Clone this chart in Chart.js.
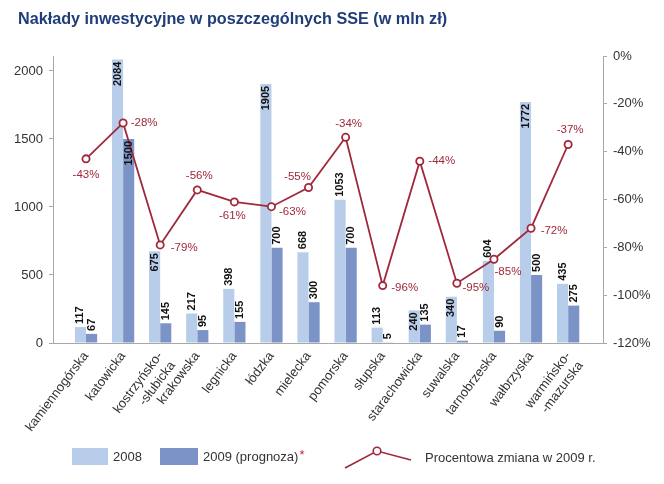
<!DOCTYPE html>
<html>
<head>
<meta charset="utf-8">
<script src="https://cdn.jsdelivr.net/npm/chart.js@4/dist/chart.umd.min.js"></script>
<style>
  html, body { margin: 0; padding: 0; background: #fff; }
  #wrap { width: 664px; height: 484px; }
</style>
</head>
<body>
<div id="wrap"><canvas id="c" width="664" height="484"></canvas></div>
<script>
// ---- data ----
const categories = ['kamiennogórska', 'katowicka', 'kostrzyńsko-\n-słubicka', 'krakowska', 'legnicka', 'łódzka', 'mielecka', 'pomorska', 'słupska', 'starachowicka', 'suwalska', 'tarnobrzeska', 'wałbrzyska', 'warmińsko-\n-mazurska'];
const values2008 = [117, 2084, 675, 217, 398, 1905, 668, 1053, 113, 240, 340, 604, 1772, 435];
const values2009 = [67, 1500, 145, 95, 155, 700, 300, 700, 5, 135, 17, 90, 500, 275];
const changePct = [-43, -28, -79, -56, -61, -63, -55, -34, -96, -44, -95, -85, -72, -37];
const leftTicks = [0, 500, 1000, 1500, 2000];
const rightTicks = [-120, -100, -80, -60, -40, -20, 0];
const title = 'Nakłady inwestycyjne w poszczególnych SSE (w mln zł)';
const legendLabels = ['2008', '2009 (prognoza)', 'Procentowa zmiana w 2009 r.'];

// ---- label styling (placement, not data) ----
const inside2008 = [false, true, true, false, false, true, false, false, false, true, true, false, true, false];
const inside2009 = [false, true, false, false, false, false, false, false, false, false, false, false, false, false];
const pctOffsets = [[0, 16], [21, 0], [24, 3], [2, -14], [-2, 14], [21, 5], [-11, -11], [3, -13], [22, 2], [22, 0], [19, 5], [14, 13], [23, 3], [2, -15]];

const COL_LIGHT = '#b7cdea';
const COL_DARK = '#7c93c7';
const COL_LINE = '#a0283a';
const COL_TEXT = '#333333';
const FONT = '"Liberation Sans", Arial, sans-serif';

const toXY = arr => arr.map((v, i) => ({ x: i, y: v }));

const labelsPlugin = {
  id: 'labelsPlugin',
  afterDatasetsDraw(chart) {
    const ctx = chart.ctx;
    // bar value labels
    [[1, values2008, inside2008], [2, values2009, inside2009]].forEach(([di, vals, ins]) => {
      const meta = chart.getDatasetMeta(di);
      meta.data.forEach((el, i) => {
        ctx.save();
        ctx.fillStyle = '#111111';
        ctx.font = 'bold 11px ' + FONT;
        ctx.textBaseline = 'middle';
        if (ins[i]) {
          ctx.translate(el.x, el.y + 2);
          ctx.rotate(-Math.PI / 2);
          ctx.textAlign = 'right';
        } else {
          ctx.translate(el.x, el.y - 3);
          ctx.rotate(-Math.PI / 2);
          ctx.textAlign = 'left';
        }
        ctx.fillText(String(vals[i]), 0, 0);
        ctx.restore();
      });
    });
    // percent labels
    const lm = chart.getDatasetMeta(0);
    ctx.save();
    ctx.fillStyle = COL_LINE;
    ctx.font = '11.5px ' + FONT;
    ctx.textAlign = 'center';
    ctx.textBaseline = 'middle';
    lm.data.forEach((el, i) => {
      ctx.fillText(changePct[i] + '%', el.x + pctOffsets[i][0], el.y + pctOffsets[i][1]);
    });
    ctx.restore();
  },
  afterDraw(chart) {
    const ctx = chart.ctx;
    ctx.save();
    // title
    ctx.fillStyle = '#1f3d78';
    ctx.font = 'bold 16.2px ' + FONT;
    ctx.textAlign = 'left';
    ctx.textBaseline = 'middle';
    ctx.fillText(title, 18, 20);
    // legend
    ctx.font = '13px ' + FONT;
    ctx.fillStyle = COL_LIGHT;
    ctx.fillRect(72, 448, 36, 17);
    ctx.fillStyle = COL_DARK;
    ctx.fillRect(160, 448, 38, 17);
    ctx.fillStyle = COL_TEXT;
    ctx.fillText(legendLabels[0], 113, 457);
    ctx.fillText(legendLabels[1], 203, 457);
    const w = ctx.measureText(legendLabels[1]).width;
    ctx.fillStyle = '#c0283a';
    ctx.fillText('*', 203 + w + 1, 455);
    ctx.strokeStyle = COL_LINE;
    ctx.lineWidth = 1.6;
    ctx.beginPath();
    ctx.moveTo(345, 468);
    ctx.lineTo(377, 451);
    ctx.lineTo(411, 460);
    ctx.stroke();
    ctx.beginPath();
    ctx.arc(377, 451, 3.8, 0, Math.PI * 2);
    ctx.fillStyle = '#fff';
    ctx.fill();
    ctx.stroke();
    ctx.fillStyle = COL_TEXT;
    ctx.fillText(legendLabels[2], 425, 458);
    ctx.restore();
  }
};

new Chart(document.getElementById('c'), {
  data: {
    datasets: [
      {
        type: 'line', label: legendLabels[2], data: toXY(changePct), yAxisID: 'y2', order: 0,
        borderColor: COL_LINE, borderWidth: 1.8, backgroundColor: '#fff',
        pointRadius: 3.6, pointBorderWidth: 1.8, pointBackgroundColor: '#fff', pointBorderColor: COL_LINE,
        tension: 0, fill: false
      },
      {
        type: 'bar', label: legendLabels[0], data: toXY(values2008), yAxisID: 'y', order: 1,
        backgroundColor: COL_LIGHT, barPercentage: 1, categoryPercentage: 0.6
      },
      {
        type: 'bar', label: legendLabels[1], data: toXY(values2009), yAxisID: 'y', order: 2,
        backgroundColor: COL_DARK, barPercentage: 1, categoryPercentage: 0.6
      }
    ]
  },
  options: {
    responsive: false,
    animation: false,
    layout: { padding: { top: 56, left: 0, right: 0, bottom: 0 } },
    plugins: { legend: { display: false }, tooltip: { enabled: false }, title: { display: false } },
    scales: {
      x: {
        type: 'linear', min: -0.89, max: 13.94, offset: false,
        grid: { display: false, drawTicks: false },
        border: { display: true, color: '#a8a8a8', width: 1 },
        afterBuildTicks: s => { s.ticks = categories.map((_, i) => ({ value: i })); },
        afterFit: s => { s.height = 141; },
        ticks: {
          autoSkip: false, minRotation: 53, maxRotation: 53, padding: 6,
          color: COL_TEXT, font: { family: FONT, size: 13 },
          callback: v => (categories[v] !== undefined ? categories[v].split('\n') : '')
        }
      },
      y: {
        type: 'linear', position: 'left', min: 0, max: 2110,
        afterBuildTicks: s => { s.ticks = leftTicks.map(v => ({ value: v })); },
        afterFit: s => { s.width = 53; },
        grid: { drawOnChartArea: false, drawTicks: true, tickLength: 4, color: '#a8a8a8' },
        border: { display: true, color: '#a8a8a8', width: 1 },
        ticks: { padding: 6, color: COL_TEXT, font: { family: FONT, size: 13 }, callback: v => String(v) }
      },
      y2: {
        type: 'linear', position: 'right', min: -120, max: 0,
        afterBuildTicks: s => { s.ticks = rightTicks.map(v => ({ value: v })); },
        afterFit: s => { s.width = 61; },
        grid: { drawOnChartArea: false, drawTicks: true, tickLength: 4, color: '#a8a8a8' },
        border: { display: true, color: '#a8a8a8', width: 1 },
        ticks: { padding: 6, color: COL_TEXT, font: { family: FONT, size: 13 }, callback: v => v + '%' }
      }
    }
  },
  plugins: [labelsPlugin]
});
</script>
</body>
</html>
